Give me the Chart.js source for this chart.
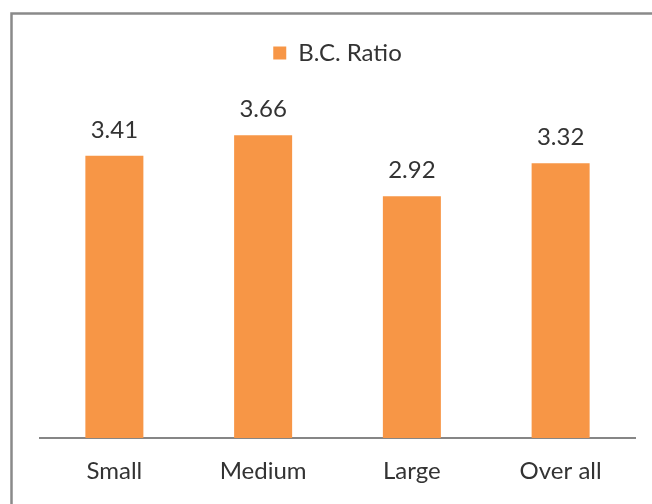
<!DOCTYPE html>
<html><head><meta charset="utf-8">
<script src="https://cdn.jsdelivr.net/npm/chart.js@4/dist/chart.umd.min.js"></script>
<style>html,body{margin:0;padding:0;background:#fff;}#wrap{width:652px;height:504px;position:relative;}</style>
</head><body><div id="wrap"><canvas id="c" width="652" height="504"></canvas></div>
<script>
const categories = ["Small", "Medium", "Large", "Over all"];
const seriesName = "B.C. Ratio";
const bcRatio = [3.41, 3.66, 2.92, 3.32];

const FONT = "Lato, 'Open Sans', sans-serif";
const TEXT = "#333333";

const frame = {
  id: 'frame',
  beforeDraw(chart) {
    const ctx = chart.ctx;
    ctx.save();
    ctx.fillStyle = '#fff';
    ctx.fillRect(0, 0, chart.width, chart.height);
    ctx.strokeStyle = '#8a8a8a';
    ctx.lineWidth = 2.5;
    ctx.beginPath();
    ctx.moveTo(11.5, chart.height + 5);
    ctx.lineTo(11.5, 13.5);
    ctx.lineTo(chart.width + 5, 13.5);
    ctx.stroke();
    ctx.restore();
  }
};

const dataLabels = {
  id: 'dataLabels',
  afterDatasetsDraw(chart) {
    const ctx = chart.ctx;
    ctx.save();
    ctx.font = "24px " + FONT;
    ctx.fillStyle = TEXT;
    ctx.textAlign = 'center';
    ctx.textBaseline = 'alphabetic';
    chart.getDatasetMeta(0).data.forEach((bar, i) => {
      ctx.fillText(bcRatio[i].toFixed(2), bar.x, bar.y - 18);
    });
    ctx.restore();
  }
};

const PAD_TOP = 33;
const legendSpace = {
  id: 'legendSpace',
  beforeInit(chart) {
    const origFit = chart.legend.fit;
    chart.legend.fit = function () {
      origFit.bind(chart.legend)();
      this.height = 107 - PAD_TOP;
    };
  }
};

new Chart(document.getElementById('c'), {
  type: 'bar',
  data: {
    labels: categories,
    datasets: [{
      label: seriesName,
      data: bcRatio,
      backgroundColor: '#F79646',
      borderWidth: 0,
      categoryPercentage: 1,
      barPercentage: 0.39
    }]
  },
  options: {
    responsive: false,
    animation: false,
    layout: { padding: { left: 40, right: 17, top: PAD_TOP, bottom: 0 } },
    plugins: {
      legend: {
        display: true,
        position: 'top',
        labels: {
          font: { size: 24, family: FONT },
          color: TEXT,
          boxWidth: 13,
          boxHeight: 13,
          padding: 8
        }
      },
      tooltip: { enabled: false }
    },
    scales: {
      x: {
        grid: { display: false, drawTicks: false },
        border: { color: '#868686', width: 2 },
        ticks: { font: { size: 24, family: FONT }, color: TEXT, padding: 19 },
        afterFit(scale) { scale.height = 66; }
      },
      y: {
        display: false,
        min: 0,
        max: 4
      }
    }
  },
  plugins: [frame, dataLabels, legendSpace]
});
</script></body></html>
